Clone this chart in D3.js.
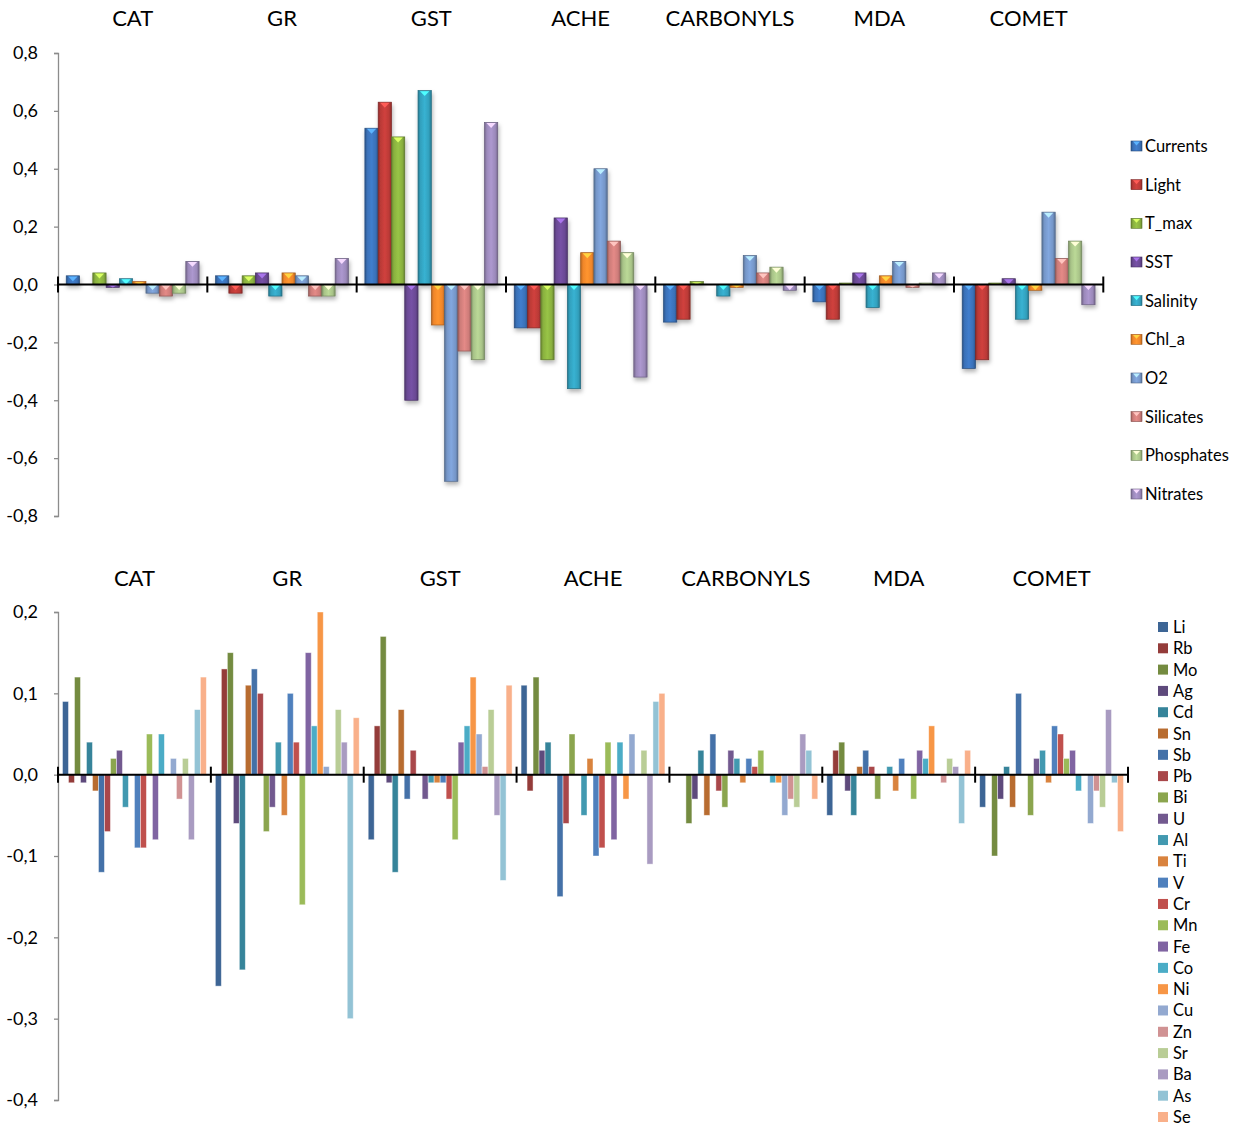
<!DOCTYPE html>
<html><head><meta charset="utf-8">
<script src="https://cdn.jsdelivr.net/npm/d3@7"></script>
<style>
body{margin:0;background:#fff;}
svg text{font-family:Lato,"Liberation Sans",Arial,sans-serif;fill:#000;}
</style></head>
<body><svg id="c" width="1244" height="1127"></svg>
<script>
// ---------- DATA ----------
const groups = ["CAT","GR","GST","ACHE","CARBONYLS","MDA","COMET"];

// top chart (environmental variables)
const envSeries = ["Currents","Light","T_max","SST","Salinity","Chl_a","O2","Silicates","Phosphates","Nitrates"];
const envColors = ["#3a71b8","#bb3a37","#89b03f","#6a4994","#32a0bd","#f0862a","#7596c8","#cd7c79","#a8c388","#9b89ba"];
const Currents   = [0.03, 0.03, 0.54, -0.15, -0.13, -0.06, -0.29];
const Light      = [0.00, -0.03, 0.63, -0.15, -0.12, -0.12, -0.26];
const T_max      = [0.04, 0.03, 0.51, -0.26, 0.01, 0.005, 0.005];
const SST        = [-0.01, 0.04, -0.40, 0.23, 0.00, 0.04, 0.02];
const Salinity   = [0.02, -0.04, 0.67, -0.36, -0.04, -0.08, -0.12];
const Chl_a      = [0.01, 0.04, -0.14, 0.11, -0.01, 0.03, -0.02];
const O2         = [-0.03, 0.03, -0.68, 0.40, 0.10, 0.08, 0.25];
const Silicates  = [-0.04, -0.04, -0.23, 0.15, 0.04, -0.01, 0.09];
const Phosphates = [-0.03, -0.04, -0.26, 0.11, 0.06, 0.005, 0.15];
const Nitrates   = [0.08, 0.09, 0.56, -0.32, -0.02, 0.04, -0.07];
const envValues = [Currents, Light, T_max, SST, Salinity, Chl_a, O2, Silicates, Phosphates, Nitrates];
const topTicks = [-0.8,-0.6,-0.4,-0.2,0,0.2,0.4,0.6,0.8];

// bottom chart (metals)
const metalSeries = ["Li","Rb","Mo","Ag","Cd","Sn","Sb","Pb","Bi","U","Al","Ti","V","Cr","Mn","Fe","Co","Ni","Cu","Zn","Sr","Ba","As","Se"];
const metalColors = ["#3d6595","#943c3a","#748b40","#5e4a7c","#36849a","#b86c30","#4471a8","#a9474a","#8ba54e","#72598f","#4299b0","#d9833e","#4f80bd","#c0504d","#9bbb59","#8064a2","#4bacc6","#f79646","#93a9d0","#d09293","#b9cd96","#a99bc1","#93c3d5","#f9b08a"];
const Li = [0.09, -0.26, -0.08, 0.11, 0.00, -0.05, -0.04];
const Rb = [-0.01, 0.13, 0.06, -0.02, 0.00, 0.03, 0.00];
const Mo = [0.12, 0.15, 0.17, 0.12, -0.06, 0.04, -0.10];
const Ag = [-0.01, -0.06, -0.01, 0.03, -0.03, -0.02, -0.03];
const Cd = [0.04, -0.24, -0.12, 0.04, 0.03, -0.05, 0.01];
const Sn = [-0.02, 0.11, 0.08, 0.00, -0.05, 0.01, -0.04];
const Sb = [-0.12, 0.13, -0.03, -0.15, 0.05, 0.03, 0.10];
const Pb = [-0.07, 0.10, 0.03, -0.06, -0.02, 0.01, 0.00];
const Bi = [0.02, -0.07, 0.00, 0.05, -0.04, -0.03, -0.05];
const U  = [0.03, -0.04, -0.03, 0.00, 0.03, 0.00, 0.02];
const Al = [-0.04, 0.04, -0.01, -0.05, 0.02, 0.01, 0.03];
const Ti = [0.00, -0.05, -0.01, 0.02, -0.01, -0.02, -0.01];
const V  = [-0.09, 0.10, -0.01, -0.10, 0.02, 0.02, 0.06];
const Cr = [-0.09, 0.04, -0.03, -0.09, 0.01, 0.00, 0.05];
const Mn = [0.05, -0.16, -0.08, 0.04, 0.03, -0.03, 0.02];
const Fe = [-0.08, 0.15, 0.04, -0.08, 0.00, 0.03, 0.03];
const Co = [0.05, 0.06, 0.06, 0.04, -0.01, 0.02, -0.02];
const Ni = [0.00, 0.20, 0.12, -0.03, -0.01, 0.06, 0.00];
const Cu = [0.02, 0.01, 0.05, 0.05, -0.05, 0.00, -0.06];
const Zn = [-0.03, 0.00, 0.01, 0.00, -0.03, -0.01, -0.02];
const Sr = [0.02, 0.08, 0.08, 0.03, -0.04, 0.02, -0.04];
const Ba = [-0.08, 0.04, -0.05, -0.11, 0.05, 0.01, 0.08];
const As = [0.08, -0.30, -0.13, 0.09, 0.03, -0.06, -0.01];
const Se = [0.12, 0.07, 0.11, 0.10, -0.03, 0.03, -0.07];
const metalValues = [Li,Rb,Mo,Ag,Cd,Sn,Sb,Pb,Bi,U,Al,Ti,V,Cr,Mn,Fe,Co,Ni,Cu,Zn,Sr,Ba,As,Se];
const bottomTicks = [-0.4,-0.3,-0.2,-0.1,0,0.1,0.2];

// ---------- DRAW ----------
const svg = d3.select("#c");
const fmt = v => d3.format(".1f")(v).replace(".", ",").replace("−","-");
const defs = svg.append("defs");
const sh = defs.append("filter").attr("id","shadow").attr("x","-50%").attr("y","-20%").attr("width","200%").attr("height","140%");
sh.append("feDropShadow").attr("dx",1).attr("dy",3).attr("stdDeviation",2).attr("flood-color","#000").attr("flood-opacity",0.3);

envColors.forEach((c,i)=>{
  const g = defs.append("linearGradient").attr("id","eg"+i).attr("x1",0).attr("x2",1).attr("y1",0).attr("y2",0);
  const base = d3.color(c);
  [[0,base.darker(0.8)],[0.18,base],[0.5,base.brighter(0.3)],[0.82,base],[1,base.darker(0.8)]]
    .forEach(([o,col])=>g.append("stop").attr("offset",o).attr("stop-color",col.formatHex()));
});

function drawChart(opt){
  const {x0Range, yDomain, yRange, series, values, ticks, pad, titleY} = opt;
  const x0 = d3.scaleBand().domain(groups).range(x0Range).padding(0);
  const x1 = d3.scaleBand().domain(series).range([0, x0.bandwidth()]).paddingInner(0).paddingOuter(pad);
  const y = d3.scaleLinear().domain(yDomain).range(yRange);
  const root = svg.append("g");

  // y axis
  const ax = root.append("g").attr("transform",`translate(${x0Range[0]},0)`)
    .call(d3.axisLeft(y).tickValues(ticks).tickFormat(fmt).tickSize(4).tickPadding(16));
  ax.select(".domain").attr("stroke","#8c8c8c").attr("stroke-width",1.3);
  ax.selectAll(".tick line").attr("stroke","#8c8c8c").attr("stroke-width",1.3);
  ax.selectAll(".tick text").attr("font-size",18).attr("fill","#000")
    .style("font-family",'Lato,"Liberation Sans",Arial,sans-serif');

  // titles
  root.selectAll(".title").data(groups).join("text")
    .attr("x",d=>x0(d)+x0.bandwidth()/2).attr("y",titleY)
    .attr("text-anchor","middle").attr("dominant-baseline","central")
    .attr("font-size",22).text(d=>d);

  // bars
  const bars = root.append("g");
  const items = [];
  series.forEach((s,si)=>values[si].forEach((v,gi)=>items.push({s,si,g:groups[gi],v})));
  opt.drawBars(bars, items, x0, x1, y);

  // zero axis
  const y0 = y(0);
  root.append("line").attr("x1",x0Range[0]).attr("x2",x0Range[1]).attr("y1",y0).attr("y2",y0)
    .attr("stroke","#000").attr("stroke-width",2);
  const bounds = groups.map(g=>x0(g)).concat([x0Range[1]]);
  root.selectAll(".gt").data(bounds).join("line")
    .attr("x1",d=>d).attr("x2",d=>d).attr("y1",y0-8).attr("y2",y0+8)
    .attr("stroke","#000").attr("stroke-width",2);
  return {x0,x1,y};
}

// top chart
drawChart({
  x0Range:[58,1103.3], yDomain:[-0.8,0.8], yRange:[516,53],
  series:envSeries, values:envValues, ticks:topTicks, pad:0.62, titleY:17,
  drawBars:(g, items, x0, x1, y)=>{
    const gg = g.attr("filter","url(#shadow)");
    items.forEach(d=>{
      if (d.v===0) return;
      const x = x0(d.g)+x1(d.s), w = x1.bandwidth();
      const yt = y(Math.max(0,d.v)), yb = y(Math.min(0,d.v));
      const h = Math.max(yb-yt, 0.5);
      const base = d3.color(envColors[d.si]);
      gg.append("rect").attr("x",x).attr("y",yt).attr("width",w).attr("height",h)
        .attr("fill",`url(#eg${d.si})`).attr("stroke",base.darker(1.1).formatHex()).attr("stroke-width",0.7);
      const th = Math.min(5.5,h);
      gg.append("path").attr("d",`M${x+w*0.15},${yt+0.6}L${x+w*0.85},${yt+0.6}L${x+w/2},${yt+th}Z`)
        .attr("fill",base.brighter(1.3).formatHex());
    });
  }
});

// bottom chart
drawChart({
  x0Range:[58,1128], yDomain:[-0.4,0.2], yRange:[1100,612],
  series:metalSeries, values:metalValues, ticks:bottomTicks, pad:0.75, titleY:577,
  drawBars:(g, items, x0, x1, y)=>{
    g.selectAll("rect").data(items.filter(d=>d.v!==0)).join("rect")
      .attr("x",d=>x0(d.g)+x1(d.s)).attr("width",x1.bandwidth())
      .attr("y",d=>y(Math.max(0,d.v))).attr("height",d=>Math.abs(y(d.v)-y(0)))
      .attr("fill",d=>metalColors[d.si])
      .attr("stroke","#fff").attr("stroke-opacity",0.55).attr("stroke-width",0.8);
  }
});

// top legend
const ly = d3.scalePoint().domain(envSeries).range([146,494]);
const tl = svg.append("g");
envSeries.forEach((s,i)=>{
  const c = d3.color(envColors[i]);
  tl.append("rect").attr("x",1131).attr("y",ly(s)-5).attr("width",11).attr("height",10)
    .attr("fill",`url(#eg${i})`).attr("stroke",c.darker(1.1).formatHex()).attr("stroke-width",0.6);
  tl.append("path").attr("d",`M${1133},${ly(s)-4.4}L${1140},${ly(s)-4.4}L${1136.5},${ly(s)-0.5}Z`).attr("fill",c.brighter(1.3).formatHex());
  tl.append("text").attr("x",1145).attr("y",ly(s)).attr("dominant-baseline","central").attr("font-size",16.5).text(s);
});

// bottom legend
const ly2 = d3.scalePoint().domain(metalSeries).range([627,1117]);
const bl = svg.append("g");
metalSeries.forEach((s,i)=>{
  bl.append("rect").attr("x",1158).attr("y",ly2(s)-5).attr("width",10).attr("height",10).attr("fill",metalColors[i]);
  bl.append("text").attr("x",1173).attr("y",ly2(s)).attr("dominant-baseline","central").attr("font-size",16.5).text(s);
});
</script></body></html>
